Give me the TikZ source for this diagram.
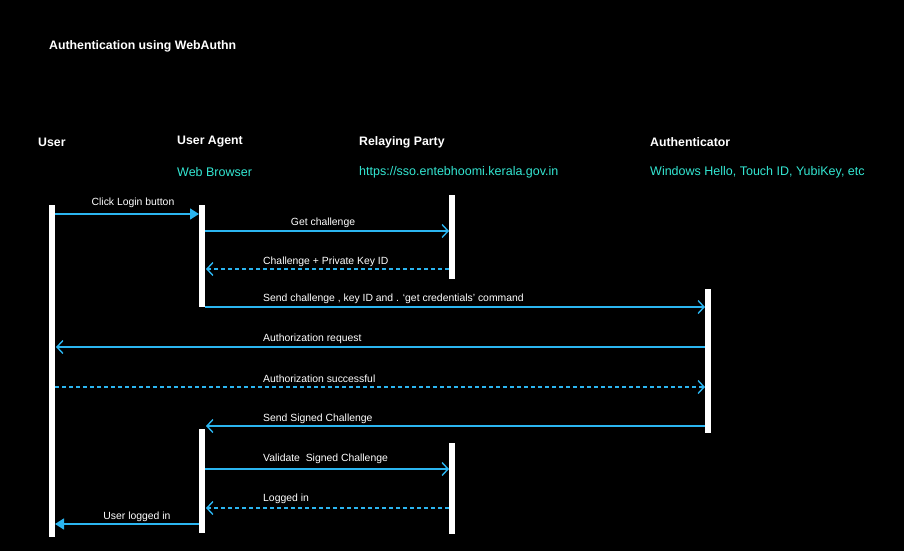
\documentclass[tikz,border=0pt]{standalone}
\usepackage{fontspec}
\setmainfont{Liberation Sans}
\usetikzlibrary{arrows.meta}
\definecolor{arr}{HTML}{2BB5F0}
\definecolor{sub}{HTML}{33E6D2}
\begin{document}
\begin{tikzpicture}[x=1pt,y=-1pt,
  bar/.style={fill=white,draw=none},
  msg/.style={draw=arr,line width=1.6pt,-{Straight Barb[length=6pt,width=13pt,line width=1.4pt]}},
  fmsg/.style={draw=arr,line width=1.6pt,-{Triangle[length=9pt,width=11pt]}},
  dmsg/.style={msg,dash pattern=on 4pt off 3pt},
  lab/.style={text=white,font=\fontsize{10.4}{12}\selectfont,inner sep=0pt,yshift=-2pt},
  head/.style={text=white,font=\fontsize{12.3}{14}\selectfont\bfseries,inner sep=0pt,anchor=west,yshift=-1pt},
  subh/.style={text=sub,font=\fontsize{12.5}{14}\selectfont,inner sep=0pt,anchor=west,yshift=-1pt}]
\fill[black] (0,0) rectangle (904,551);
\node[head] (title) at (49,45) {Authentication using WebAuthn};
\node[head] (h1) at (38,141) {User};
\node[head] (h2) at (177,141) {User Agent};
\node[head] (h3) at (359,141) {Relaying Party};
\node[head] (h4) at (650,141) {Authenticator};
\node[subh] (s2) at (177,171) {Web Browser};
\node[subh] (s3) at (359,171) {https://sso.entebhoomi.kerala.gov.in};
\node[subh] (s4) at (650,171) {Windows Hello, Touch ID, YubiKey, etc};
\fill[bar] (49,205) rectangle (55,537);
\fill[bar] (199,205) rectangle (205,307);
\fill[bar] (199,429) rectangle (205,533);
\fill[bar] (449,195) rectangle (455,279);
\fill[bar] (449,443) rectangle (455,534);
\fill[bar] (705,289) rectangle (711,433);
\coordinate (a1) at (55,214); \coordinate (b1) at (199,214);
\draw[fmsg] (a1) -- (b1);
\node[lab] at (133,201) {Click Login button};
\coordinate (a2) at (205,231); \coordinate (b2) at (449,231);
\draw[msg] (a2) -- (b2);
\node[lab] at (323,221) {Get challenge};
\coordinate (a3) at (449,269); \coordinate (b3) at (206,269);
\draw[dmsg] (a3) -- (b3);
\node[lab,anchor=west] at (263,260) {Challenge + Private Key ID};
\coordinate (a4) at (205,307); \coordinate (b4) at (705,307);
\draw[msg] (a4) -- (b4);
\node[lab,anchor=west] at (263,297) {Send challenge , key ID and . ‘get credentials’ command};
\coordinate (a5) at (705,347); \coordinate (b5) at (56,347);
\draw[msg] (a5) -- (b5);
\node[lab,anchor=west] at (263,337) {Authorization request};
\coordinate (a6) at (55,387); \coordinate (b6) at (705,387);
\draw[dmsg] (a6) -- (b6);
\node[lab,anchor=west] at (263,377) {Authorization successful};
\coordinate (a7) at (705,426); \coordinate (b7) at (206,426);
\draw[msg] (a7) -- (b7);
\node[lab,anchor=west] at (263,417) {Send Signed Challenge};
\coordinate (a8) at (205,469); \coordinate (b8) at (449,469);
\draw[msg] (a8) -- (b8);
\node[lab,anchor=west] at (263,457) {Validate\ \ Signed Challenge};
\coordinate (a9) at (449,508); \coordinate (b9) at (206,508);
\draw[dmsg] (a9) -- (b9);
\node[lab,anchor=west] at (263,497) {Logged in};
\coordinate (a10) at (199,524); \coordinate (b10) at (55,524);
\draw[fmsg] (a10) -- (b10);
\node[lab] at (137,515) {User logged in};
\end{tikzpicture}
\end{document}
